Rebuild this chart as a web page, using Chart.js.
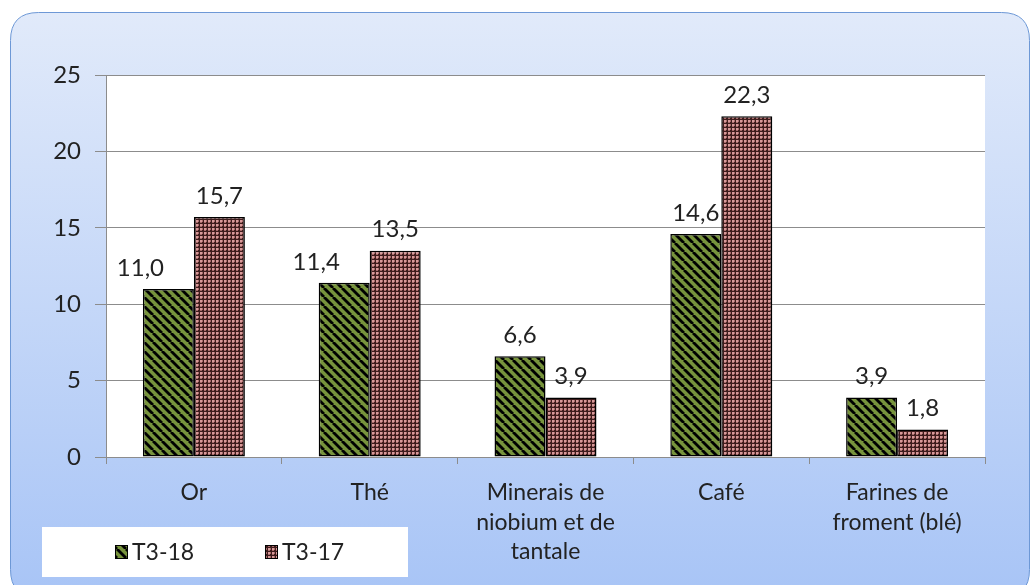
<!DOCTYPE html>
<html>
<head>
<meta charset="utf-8">
<script src="https://cdn.jsdelivr.net/npm/chart.js@4.4.1/dist/chart.umd.min.js"></script>
<style>
  html, body { margin: 0; padding: 0; background: #fff; }
  #wrap { width: 1034px; height: 585px; position: relative; }
</style>
</head>
<body>
<div id="wrap"><canvas id="myChart" width="1034" height="585"></canvas></div>
<script>
"use strict";
// data
const categories = [["Or"], ["Thé"], ["Minerais de", "niobium et de", "tantale"], ["Café"], ["Farines de", "froment (blé)"]];
const seriesNames = ["T3-18", "T3-17"];
const valuesT318 = [11.0, 11.4, 6.6, 14.6, 3.9];
const valuesT317 = [15.7, 13.5, 3.9, 22.3, 1.8];
const yTicks = [0, 5, 10, 15, 20, 25];

const FONT = "Lato, 'Open Sans', sans-serif";

function greenHatch() {
    const c = document.createElement('canvas');
    c.width = 9; c.height = 9;
    const g = c.getContext('2d');
    g.fillStyle = "#77933c";
    g.fillRect(0, 0, 9, 9);
    g.strokeStyle = "#000";
    g.lineWidth = 2.8;
    for (let k = -9; k <= 18; k += 9) {
        g.beginPath();
        g.moveTo(k, 0);
        g.lineTo(k + 9, 9);
        g.stroke();
    }
    return g.createPattern(c, 'repeat');
}

function pinkDots() {
    const c = document.createElement('canvas');
    c.width = 4; c.height = 4;
    const g = c.getContext('2d');
    g.fillStyle = "#3e1c1c";
    g.fillRect(0, 0, 4, 4);
    g.fillStyle = "#d89a9a";
    g.fillRect(0, 0, 2, 2);
    g.fillStyle = "#a86a6a";
    g.fillRect(2, 0, 1, 2);
    g.fillRect(0, 2, 2, 1);
    return g.createPattern(c, 'repeat');
}

const ctx = document.getElementById('myChart');
const patGreen = greenHatch();
const patPink = pinkDots();

function roundRect(g, x, y, w, h, r) {
    g.beginPath();
    g.moveTo(x + r, y);
    g.lineTo(x + w - r, y);
    g.quadraticCurveTo(x + w, y, x + w, y + r);
    g.lineTo(x + w, y + h - r);
    g.quadraticCurveTo(x + w, y + h, x + w - r, y + h);
    g.lineTo(x + r, y + h);
    g.quadraticCurveTo(x, y + h, x, y + h - r);
    g.lineTo(x, y + r);
    g.quadraticCurveTo(x, y, x + r, y);
    g.closePath();
}

// background panel + white plot area
const panelPlugin = {
    id: 'panel',
    beforeDraw(chart) {
        const g = chart.ctx;
        const a = chart.chartArea;
        g.save();
        const grad = g.createLinearGradient(0, 12, 0, 585);
        grad.addColorStop(0, "#e1eafa");
        grad.addColorStop(1, "#a9c5f6");
        roundRect(g, 10.5, 12.5, 1019, 585, 28);
        g.fillStyle = grad;
        g.fill();
        g.strokeStyle = "#6d98d6";
        g.lineWidth = 1;
        g.stroke();
        g.fillStyle = "#ffffff";
        g.fillRect(a.left, a.top, a.right - a.left, a.bottom - a.top);
        g.restore();
    }
};

// value labels above bars
const labelPlugin = {
    id: 'barLabels',
    afterDatasetsDraw(chart, args, opts) {
        const g = chart.ctx;
        g.save();
        g.font = "24px " + FONT;
        g.fillStyle = "#222";
        g.textAlign = "center";
        g.textBaseline = "bottom";
        chart.data.datasets.forEach((ds, i) => {
            const meta = chart.getDatasetMeta(i);
            meta.data.forEach((bar, j) => {
                const nudge = (opts.nudge[i] && opts.nudge[i][j]) || 0;
                const txt = ds.data[j].toFixed(1).replace('.', ',');
                g.fillText(txt, bar.x + nudge, bar.y - 9);
            });
        });
        g.restore();
    }
};

// legend in a white box, bottom left
const legendPlugin = {
    id: 'boxLegend',
    afterDraw(chart) {
        const g = chart.ctx;
        g.save();
        g.fillStyle = "#ffffff";
        g.fillRect(42, 527, 366, 50);
        g.font = "23px " + FONT;
        g.textBaseline = "middle";
        g.textAlign = "left";
        const xs = [115, 265];
        chart.data.datasets.forEach((ds, i) => {
            const x = xs[i], y = 552;
            g.fillStyle = ds.backgroundColor;
            g.fillRect(x, y - 7, 13, 14);
            g.strokeStyle = "#000";
            g.lineWidth = 1;
            g.strokeRect(x + 0.5, y - 6.5, 12, 13);
            g.fillStyle = "#222";
            g.fillText(ds.label, x + 17, y + 1);
        });
        g.restore();
    }
};

var myChart = new Chart(ctx, {
    type: 'bar',
    data: {
        labels: categories,
        datasets: [{
                label: seriesNames[0],
                data: valuesT318,
                backgroundColor: patGreen,
                borderColor: "#000",
                borderWidth: 1.5,
                borderSkipped: false
            },
            {
                label: seriesNames[1],
                data: valuesT317,
                backgroundColor: patPink,
                borderColor: "#000",
                borderWidth: 1.5,
                borderSkipped: false
            }
        ]
    },
    options: {
        responsive: false,
        animation: false,
        devicePixelRatio: 1,
        layout: { padding: { left: 0, right: 49, top: 75, bottom: 0 } },
        datasets: { bar: { categoryPercentage: 0.58, barPercentage: 1.0 } },
        plugins: {
            legend: { display: false },
            tooltip: { enabled: false },
            barLabels: { nudge: { 0: { 0: -28, 1: -28 } } }
        },
        scales: {
            x: {
                grid: {
                    offset: true,
                    drawOnChartArea: false,
                    color: "#8c8c8c",
                    tickLength: 7,
                    tickColor: "#8c8c8c"
                },
                border: { color: "#8c8c8c", width: 1 },
                ticks: {
                    color: "#222",
                    font: { size: 23, family: FONT, lineHeight: 1.28 },
                    padding: 14,
                    maxRotation: 0,
                    autoSkip: false
                },
                afterFit(scale) { scale.height = 128; }
            },
            y: {
                min: 0,
                max: 25,
                afterBuildTicks(scale) { scale.ticks = yTicks.map(v => ({ value: v })); },
                grid: {
                    color: "#8c8c8c",
                    tickLength: 11,
                    tickColor: "#8c8c8c"
                },
                border: { color: "#8c8c8c", width: 1 },
                ticks: {
                    color: "#222",
                    font: { size: 24, family: FONT },
                    padding: 14
                },
                afterFit(scale) { scale.width = 106; }
            }
        }
    },
    plugins: [panelPlugin, labelPlugin, legendPlugin]
});
</script>
</body>
</html>
